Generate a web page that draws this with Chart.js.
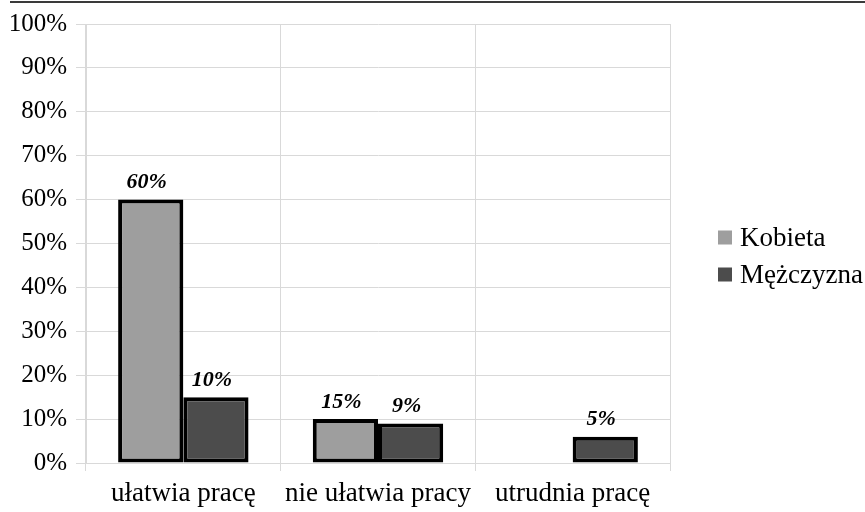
<!DOCTYPE html>
<html lang="pl">
<head>
    <meta charset="UTF-8">
    <title>Kobieta / Mężczyzna</title>
    <script src="https://cdn.jsdelivr.net/npm/chart.js"></script>
    <style>
        body {
            margin: 0;
            padding: 0;
            background: #ffffff;
        }
        .wrap {
            position: relative;
            width: 865px;
            height: 512px;
        }
        .topline {
            position: absolute;
            left: 10px;
            right: 0;
            top: 1px;
            border-top: 2px solid #3a3a3a;
        }
    </style>
</head>
<body>
    <div class="wrap">
        <div class="topline"></div>
        <canvas id="chart" width="865" height="512"></canvas>
    </div>

    <script>
        // data
        const categories = ['ułatwia pracę', 'nie ułatwia pracy', 'utrudnia pracę'];
        const kobieta = [60, 10, null];
        const mezczyzna = [15, 9, 6];
        // labels printed above the bars (as shown in the original)
        const kobietaLabels = ['60%', '15%', ''];
        const mezczyznaLabels = ['10%', '9%', '5%'];
        const yTicks = [0, 10, 20, 30, 40, 50, 60, 70, 80, 90, 100];

        const serif = 'Liberation Serif';
        const gridColor = '#d9d9d9';

        // draw the italic value labels above each bar
        const valueLabels = {
            id: 'valueLabels',
            afterDatasetsDraw(chart) {
                const ctx = chart.ctx;
                const sets = [kobietaLabels, mezczyznaLabels];
                ctx.save();
                ctx.font = 'italic bold 22px "Liberation Serif"';
                ctx.fillStyle = '#000';
                ctx.textAlign = 'center';
                ctx.textBaseline = 'bottom';
                sets.forEach((labels, di) => {
                    const meta = chart.getDatasetMeta(di);
                    meta.data.forEach((bar, i) => {
                        if (!labels[i]) return;
                        ctx.fillText(labels[i], bar.x - 4, bar.y - 6);
                    });
                });
                ctx.restore();
            }
        };

        // legend on the right, drawn from the datasets
        const sideLegend = {
            id: 'sideLegend',
            afterDraw(chart) {
                const ctx = chart.ctx;
                const area = chart.chartArea;
                const x = area.right + 48;
                let y = (area.top + area.bottom) / 2 - 6;
                ctx.save();
                ctx.font = '27px "Liberation Serif"';
                ctx.textBaseline = 'middle';
                ctx.textAlign = 'left';
                chart.data.datasets.forEach(ds => {
                    ctx.fillStyle = ds.backgroundColor;
                    ctx.fillRect(x, y - 7, 14, 14);
                    ctx.fillStyle = '#000';
                    ctx.fillText(ds.label, x + 22, y + 1);
                    y += 37;
                });
                ctx.restore();
            }
        };

        new Chart(document.getElementById('chart').getContext('2d'), {
            type: 'bar',
            data: {
                labels: categories,
                datasets: [{
                    label: 'Kobieta',
                    data: kobieta,
                    backgroundColor: '#9e9e9e',
                    borderColor: '#000',
                    borderWidth: 4,
                    borderSkipped: false
                }, {
                    label: 'Mężczyzna',
                    data: mezczyzna,
                    backgroundColor: '#4c4c4c',
                    borderColor: '#000',
                    borderWidth: 4,
                    borderSkipped: false
                }]
            },
            options: {
                responsive: false,
                animation: false,
                categoryPercentage: 0.67,
                barPercentage: 1.0,
                layout: {
                    padding: { left: 6, top: 19, right: 195, bottom: 0 }
                },
                plugins: {
                    tooltip: { enabled: false },
                    legend: { display: false }
                },
                scales: {
                    x: {
                        afterFit(scale) {
                            scale.height = 49;
                        },
                        grid: {
                            offset: true,
                            color: gridColor,
                            tickLength: 8
                        },
                        border: { color: gridColor },
                        ticks: {
                            color: '#000',
                            padding: 7,
                            maxRotation: 0,
                            font: { family: serif, size: 27 }
                        }
                    },
                    y: {
                        min: 0,
                        max: 100,
                        afterBuildTicks(scale) {
                            scale.ticks = yTicks.map(v => ({ value: v }));
                        },
                        afterFit(scale) {
                            scale.width = 80;
                        },
                        grid: {
                            color: gridColor,
                            tickLength: 10
                        },
                        border: { color: gridColor },
                        ticks: {
                            color: '#000',
                            padding: 9,
                            font: { family: serif, size: 25 },
                            callback: v => v + '%'
                        }
                    }
                }
            },
            plugins: [valueLabels, sideLegend]
        });
    </script>
</body>
</html>
